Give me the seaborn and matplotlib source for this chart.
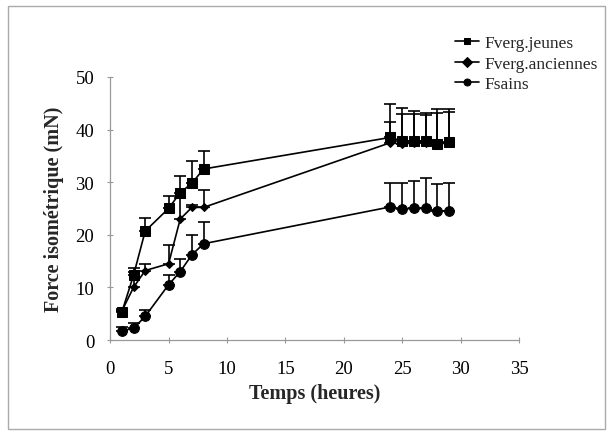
import numpy as np
import pandas as pd
import seaborn as sns
import matplotlib
matplotlib.use('Agg')
import matplotlib.pyplot as plt
from matplotlib.patches import Rectangle

temps = [1, 2, 3, 5, 6, 7, 8, 24, 25, 26, 27, 28, 29]
series = ['Fverg.jeunes', 'Fverg.anciennes', 'Fsains']

jeunes = [5.3, 12.3, 20.7, 25.0, 28.0, 29.8, 32.5, 38.5, 37.8, 37.8, 37.8, 37.3, 37.6]
jeunes_err = [0.5, 1.4, 2.5, 2.3, 3.1, 4.3, 3.4, 6.3, 6.3, 5.8, 5.4, 6.6, 6.2]
anciennes = [5.5, 10.0, 13.2, 14.5, 23.0, 25.2, 25.2, 37.5, 37.2, 37.5, 37.5, 37.2, 37.5]
anciennes_err = [0.4, 3.0, 1.2, 3.6, 3.9, 0.4, 3.4, 3.9, 5.8, 5.5, 5.2, 6.0, 5.8]
sains = [1.8, 2.2, 4.5, 10.5, 13.0, 16.2, 18.3, 25.3, 24.9, 25.0, 25.0, 24.5, 24.6]
sains_err = [0.7, 1.1, 1.3, 1.8, 2.4, 3.7, 4.1, 4.6, 5.0, 5.3, 5.7, 5.2, 5.3]

df = pd.DataFrame({
    'temps': temps * 3,
    'force': jeunes + anciennes + sains,
    'serie': [s for s in series for _ in temps],
})

sns.set_style('ticks')
plt.rcParams['font.family'] = ['Liberation Serif', 'DejaVu Serif']

fig = plt.figure(figsize=(6.12, 4.35), dpi=100)
ax = fig.add_axes([0.18, 0.216, 0.668, 0.605])

# upward error bars first (drawn under the markers)
for vals, errs in [(jeunes, jeunes_err), (anciennes, anciennes_err), (sains, sains_err)]:
    ax.errorbar(temps, vals, yerr=[np.zeros(len(errs)), errs], fmt='none',
                ecolor='black', elinewidth=1.2, capsize=4, capthick=1.2, zorder=2)

sns.lineplot(data=df, x='temps', y='force', hue='serie', style='serie',
             palette=['black'] * 3, markers={'Fverg.jeunes': 's', 'Fverg.anciennes': 'D', 'Fsains': 'o'},
             dashes=False, markersize=7, linewidth=1.2, markeredgecolor='black',
             ax=ax, zorder=3)
for ln in ax.lines:
    if ln.get_marker() == 'D':
        ln.set_markersize(4.5)

ax.set_xlim(0, 35)
ax.set_ylim(0, 50)
ax.set_xticks(range(0, 36, 5))
ax.set_yticks(range(0, 51, 10))
ax.tick_params(labelsize=13.5, length=5, width=0.8, direction='inout', color='#999999', labelcolor='black')
ax.tick_params(axis='x', pad=12)
ax.tick_params(axis='y', pad=9)
for side in ['left', 'bottom']:
    ax.spines[side].set_color('#999999')
    ax.spines[side].set_linewidth(0.9)
sns.despine(ax=ax)

ax.set_xlabel('Temps (heures)', fontsize=14.5, fontweight='bold', labelpad=4)
ax.set_ylabel('Force isométrique (mN)', fontsize=14.5, fontweight='bold', labelpad=8)

handles, labels = ax.get_legend_handles_labels()
ax.legend(handles, labels, loc='upper left', bbox_to_anchor=(0.843, 1.16),
          frameon=False, fontsize=12.5, handlelength=1.4, handletextpad=0.3,
          labelspacing=0.26, borderaxespad=0, borderpad=0)
for h in ax.get_legend().legend_handles:
    h.set_markersize(5)

fig.patches.append(Rectangle((0.013, 0.012), 0.975, 0.972, transform=fig.transFigure,
                             fill=False, edgecolor='#aaaaaa', linewidth=1))

fig.savefig('out.png', dpi=100)
